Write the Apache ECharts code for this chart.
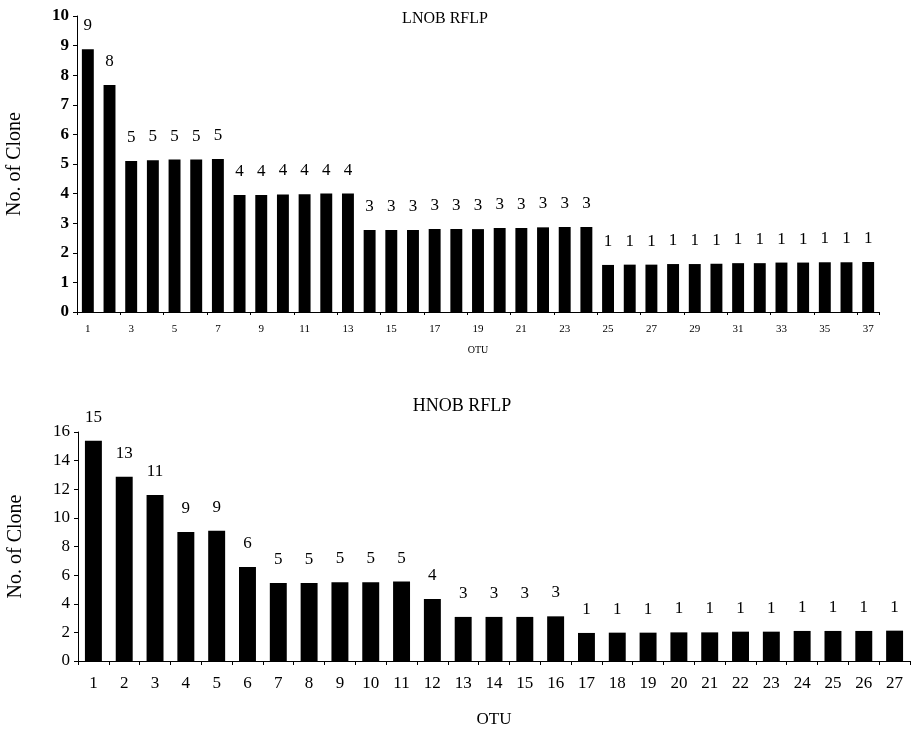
<!DOCTYPE html>
<html>
<head>
<meta charset="utf-8">
<script src="https://cdn.jsdelivr.net/npm/echarts@6/dist/echarts.min.js"></script>
<style>
    html, body { margin: 0; padding: 0; background: #fff; }
    #main { width: 911px; height: 733px; }
</style>
</head>
<body>
<div id="main"></div>
<script>
    // LNOB RFLP: 37 OTUs
    const lnobOtu = ['1','2','3','4','5','6','7','8','9','10','11','12','13','14','15','16','17','18','19',
        '20','21','22','23','24','25','26','27','28','29','30','31','32','33','34','35','36','37']
    const lnobCounts = [9, 8, 5, 5, 5, 5, 5, 4, 4, 4, 4, 4, 4, 3, 3, 3, 3, 3, 3, 3, 3, 3, 3, 3,
        1, 1, 1, 1, 1, 1, 1, 1, 1, 1, 1, 1, 1]
    // bar heights as drawn in the figure
    const lnobBars = [8.88, 7.67, 5.1, 5.13, 5.15, 5.15, 5.17, 3.95, 3.95, 3.97, 3.98, 4.0, 4.0,
        2.77, 2.77, 2.77, 2.8, 2.8, 2.8, 2.84, 2.84, 2.86, 2.87, 2.87,
        1.59, 1.6, 1.6, 1.62, 1.62, 1.63, 1.65, 1.65, 1.67, 1.67, 1.68, 1.68, 1.69]
    const lnobYTicks = [0, 10, 1]

    // HNOB RFLP: 27 OTUs
    const hnobOtu = ['1','2','3','4','5','6','7','8','9','10','11','12','13','14','15','16','17','18','19',
        '20','21','22','23','24','25','26','27']
    const hnobCounts = [15, 13, 11, 9, 9, 6, 5, 5, 5, 5, 5, 4, 3, 3, 3, 3, 1, 1, 1, 1, 1, 1, 1, 1, 1, 1, 1]
    const hnobBars = [15.38, 12.87, 11.6, 9.02, 9.1, 6.57, 5.45, 5.45, 5.5, 5.5, 5.55, 4.33,
        3.08, 3.08, 3.08, 3.12, 1.96, 1.98, 1.98, 2.0, 2.0, 2.05, 2.05, 2.1, 2.1, 2.1, 2.12]
    const hnobYTicks = [0, 16, 2]

    const font = 'Liberation Serif'
    const axisLine = { lineStyle: { color: '#000', width: 1 } }

    function barSeries(idx, bars, counts, labelSize) {
        return {
            type: 'bar',
            xAxisIndex: idx,
            yAxisIndex: idx,
            data: bars,
            barWidth: '55%',
            itemStyle: { color: '#000' },
            label: {
                show: true,
                position: 'top',
                distance: 15,
                color: '#000',
                fontFamily: font,
                fontSize: labelSize,
                formatter: p => counts[p.dataIndex]
            }
        }
    }

    const myChart = echarts.init(document.getElementById('main'))
    const option = {
        backgroundColor: '#fff',
        animation: false,
        title: [
            { text: 'LNOB RFLP', left: 440, top: 6, textAlign: 'center',
              textStyle: { fontFamily: font, fontSize: 16, fontWeight: 'normal', color: '#000' } },
            { text: 'HNOB RFLP', left: 457, top: 392, textAlign: 'center',
              textStyle: { fontFamily: font, fontSize: 18, fontWeight: 'normal', color: '#000' } }
        ],
        grid: [
            { left: 77, right: 32, top: 16, height: 296, outerBoundsMode: 'none' },
            { left: 78, right: 1, top: 432, height: 229, outerBoundsMode: 'none' }
        ],
        xAxis: [
            {
                gridIndex: 0, type: 'category', data: lnobOtu,
                name: 'OTU', nameLocation: 'middle', nameGap: 33,
                nameTextStyle: { fontFamily: font, fontSize: 10, color: '#000' },
                axisLine: axisLine,
                axisTick: { show: true, length: 3, lineStyle: { color: '#000' } },
                axisLabel: { interval: 1, margin: 12, fontFamily: font, fontSize: 11, color: '#000' }
            },
            {
                gridIndex: 1, type: 'category', data: hnobOtu,
                name: 'OTU', nameLocation: 'middle', nameGap: 50,
                nameTextStyle: { fontFamily: font, fontSize: 17, color: '#000' },
                axisLine: axisLine,
                axisTick: { show: true, length: 4, lineStyle: { color: '#000' } },
                axisLabel: { interval: 0, margin: 14, fontFamily: font, fontSize: 17, color: '#000' }
            }
        ],
        yAxis: [
            {
                gridIndex: 0, type: 'value', min: lnobYTicks[0], max: lnobYTicks[1], interval: lnobYTicks[2],
                name: 'No. of Clone', nameLocation: 'middle', nameGap: 52,
                nameTextStyle: { fontFamily: font, fontSize: 20, color: '#000' },
                axisLine: { show: true, lineStyle: { color: '#000' } },
                axisTick: { show: true, length: 4, lineStyle: { color: '#000' } },
                splitLine: { show: false },
                axisLabel: { margin: 8, fontFamily: font, fontSize: 17, fontWeight: 'bold', color: '#000' }
            },
            {
                gridIndex: 1, type: 'value', min: hnobYTicks[0], max: hnobYTicks[1], interval: hnobYTicks[2],
                name: 'No. of Clone', nameLocation: 'middle', nameGap: 52,
                nameTextStyle: { fontFamily: font, fontSize: 20, color: '#000' },
                axisLine: { show: true, lineStyle: { color: '#000' } },
                axisTick: { show: true, length: 4, lineStyle: { color: '#000' } },
                splitLine: { show: false },
                axisLabel: { margin: 8, fontFamily: font, fontSize: 17, color: '#000' }
            }
        ],
        series: [
            barSeries(0, lnobBars, lnobCounts, 17),
            barSeries(1, hnobBars, hnobCounts, 17)
        ]
    }
    myChart.setOption(option)
</script>
</body>
</html>
